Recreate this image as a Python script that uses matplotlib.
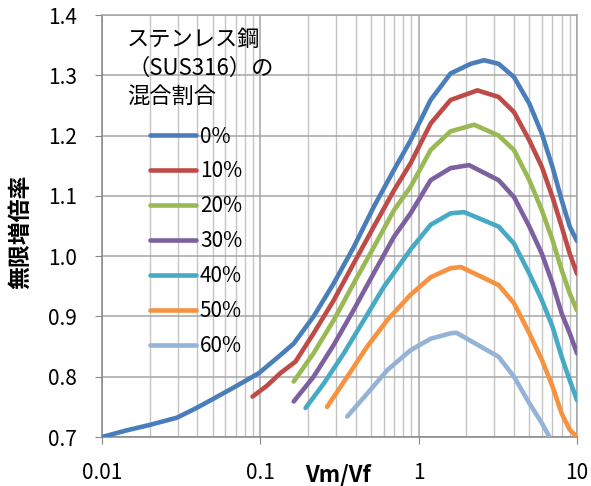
import numpy as np
import matplotlib
matplotlib.use("Agg")
import matplotlib.pyplot as plt
from matplotlib.ticker import LogLocator, NullFormatter, FixedLocator, FixedFormatter

plt.rcParams['font.family'] = ['Noto Sans CJK JP', 'DejaVu Sans']

# データ (Vm/Vf, 無限増倍率) - 図から読み取り
x_0 = [0.01, 0.0143, 0.020, 0.0297, 0.0394, 0.0494, 0.0668, 0.098, 0.134, 0.1625, 0.217, 0.291, 0.389,
       0.521, 0.698, 0.889, 1.19, 1.59, 2.13, 2.59, 3.2, 4, 5, 6, 7, 8, 9, 10]
y_0 = [0.700, 0.711, 0.720, 0.732, 0.748, 0.762, 0.781, 0.806, 0.836, 0.855, 0.900, 0.955, 1.015,
       1.082, 1.143, 1.192, 1.259, 1.303, 1.319, 1.325, 1.319, 1.297, 1.253, 1.203, 1.148, 1.093, 1.049, 1.025]

x_10 = [0.0893, 0.11, 0.134, 0.1667, 0.217, 0.291, 0.389, 0.521, 0.698, 0.889, 1.19, 1.59, 2.35,
        3.2, 4, 5, 6, 7, 8, 9, 10]
y_10 = [0.767, 0.785, 0.806, 0.825, 0.872, 0.927, 0.988, 1.049, 1.109, 1.154, 1.220, 1.259, 1.275,
        1.264, 1.239, 1.192, 1.148, 1.098, 1.049, 1.004, 0.971]

x_20 = [0.1625, 0.217, 0.291, 0.389, 0.521, 0.698, 0.889, 1.19, 1.59, 2.24, 3.2, 4, 5, 6, 7, 8, 9, 10]
y_20 = [0.792, 0.839, 0.894, 0.955, 1.015, 1.076, 1.115, 1.176, 1.207, 1.218, 1.200, 1.176, 1.126,
        1.076, 1.027, 0.977, 0.938, 0.910]

x_30 = [0.1625, 0.217, 0.291, 0.389, 0.521, 0.698, 0.889, 1.19, 1.59, 2.08, 3.2, 4, 5, 6, 7, 8, 9, 10]
y_30 = [0.759, 0.800, 0.853, 0.911, 0.972, 1.032, 1.071, 1.126, 1.146, 1.151, 1.126, 1.098, 1.049,
        1.004, 0.955, 0.905, 0.872, 0.839]

x_40 = [0.193, 0.252, 0.337, 0.451, 0.603, 0.889, 1.19, 1.59, 1.94, 3.2, 4, 5, 6, 7, 8, 9, 10]
y_40 = [0.748, 0.789, 0.839, 0.894, 0.949, 1.011, 1.052, 1.071, 1.073, 1.049, 1.021, 0.971, 0.927,
        0.883, 0.833, 0.794, 0.761]

x_50 = [0.264, 0.354, 0.473, 0.634, 0.889, 1.19, 1.59, 1.85, 3.2, 4, 5, 6, 7, 8, 9, 10]
y_50 = [0.750, 0.800, 0.850, 0.894, 0.936, 0.965, 0.980, 0.982, 0.952, 0.922, 0.872, 0.828, 0.784,
        0.739, 0.712, 0.700]

x_60 = [0.354, 0.473, 0.634, 0.889, 1.19, 1.59, 1.73, 3.2, 4, 5, 6, 6.7]
y_60 = [0.734, 0.772, 0.811, 0.844, 0.863, 0.872, 0.873, 0.833, 0.800, 0.756, 0.723, 0.700]

series_x = [x_0, x_10, x_20, x_30, x_40, x_50, x_60]
series_y = [y_0, y_10, y_20, y_30, y_40, y_50, y_60]
labels = ['0%', '10%', '20%', '30%', '40%', '50%', '60%']
colors = ['#4A7EBB', '#BE4B48', '#98B954', '#7D60A0', '#46AAC5', '#F69240', '#95B3D7']

y_ticks = [0.7, 0.8, 0.9, 1.0, 1.1, 1.2, 1.3, 1.4]
x_ticks = [0.01, 0.1, 1, 10]
x_ticklabels = ['0.01', '0.1', '1', '10']

fig = plt.figure(figsize=(5.91, 4.86), dpi=100)
fig.subplots_adjust(left=102/591, right=577/591, top=1-15/486, bottom=1-437/486)
ax = fig.add_subplot(111)

for xs, ys, lab, col in zip(series_x, series_y, labels, colors):
    ax.plot(xs, ys, color=col, lw=3.3, label=lab, solid_capstyle='round',
            solid_joinstyle='round', zorder=3)

ax.set_xscale('log')
ax.set_xlim(0.01, 10)
ax.set_ylim(0.7, 1.4)

ax.xaxis.set_major_locator(FixedLocator(x_ticks))
ax.xaxis.set_major_formatter(FixedFormatter(x_ticklabels))
ax.xaxis.set_minor_locator(LogLocator(base=10, subs=np.arange(2, 10)))
ax.xaxis.set_minor_formatter(NullFormatter())
ax.set_yticks(y_ticks)
ax.set_yticklabels([f'{v:.1f}' for v in y_ticks])

ax.grid(True, which='major', color='#a6a6a6', lw=1.1)
ax.grid(True, which='minor', axis='x', color='#c4c4c4', lw=1.0)
ax.set_axisbelow(True)

for s in ax.spines.values():
    s.set_color('#a6a6a6')
    s.set_linewidth(1.1)
ax.spines['left'].set_color('#868686')
ax.spines['bottom'].set_color('#868686')

ax.tick_params(axis='both', which='major', direction='out', length=5, color='#868686', labelsize=15)
ax.tick_params(axis='x', which='major', pad=13)
ax.tick_params(axis='y', which='major', pad=13)
ax.tick_params(axis='x', which='minor', length=0)

ax.set_ylabel('無限増倍率', fontsize=16.5, fontweight='bold')
ax.yaxis.set_label_coords(-0.147, 0.486)
ax.set_xlabel('Vm/Vf', fontsize=16, fontweight='bold')
ax.xaxis.set_label_coords(0.497, -0.09)
ax.xaxis.label.set_va('center')

ax.text(0.053, 0.969, 'ステンレス鋼\n（SUS316）の\n混合割合', transform=ax.transAxes,
        fontsize=16, ha='left', va='top', linespacing=1.3)

leg = ax.legend(loc='upper left', bbox_to_anchor=(0.101, 0.738), frameon=False,
                fontsize=15, handlelength=2.2, handletextpad=0.2,
                labelspacing=0.62, borderpad=0, borderaxespad=0)
for h in leg.get_lines():
    h.set_linewidth(3.3)

fig.savefig('out.png', dpi=100)
